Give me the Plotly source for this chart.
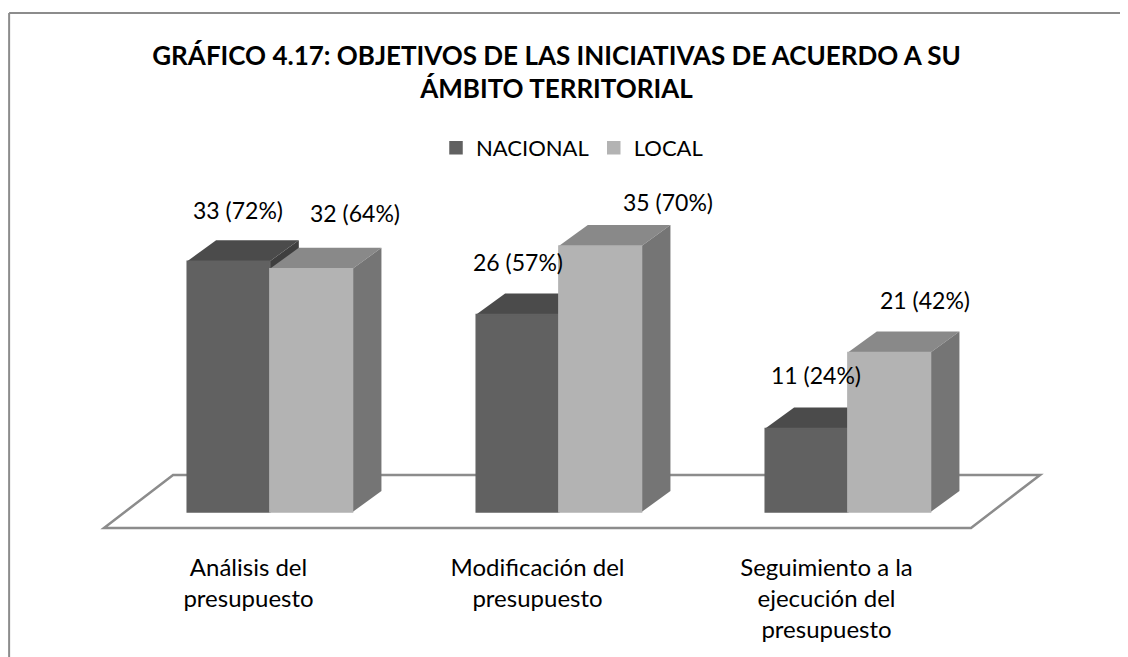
import plotly.graph_objects as go

# ---------------- data ----------------
categories = ["Análisis del<br>presupuesto",
              "Modificación del<br>presupuesto",
              "Seguimiento a la<br>ejecución del<br>presupuesto"]
series_names = ["NACIONAL", "LOCAL"]
nacional = [33, 26, 11]
local = [32, 35, 21]
nacional_pct = [72, 57, 24]
local_pct = [64, 70, 42]
title_text = "GRÁFICO 4.17: OBJETIVOS DE LAS INICIATIVAS DE ACUERDO A SU<br>ÁMBITO TERRITORIAL"

# ---------------- style / geometry ----------------
PAGE_OFF = 8                    # default body margin of the html page
FW, FH = 1128 - PAGE_OFF, 657 - PAGE_OFF
FONT = "Lato"


def px_x(X):   # screen pixel -> paper fraction
    return (X - PAGE_OFF) / FW


def px_y(Y):
    return 1 - (Y - PAGE_OFF) / FH


bar_w = 0.286          # width of each bar front face (category units)
shift = 0.074          # bar front plane offset from floor front plane
depth_x = 0.100        # 3-D depth, x units
depth_y = 2.76         # 3-D depth, y units
floor_front_y = -2.1
floor_depth_x = 0.239
floor_depth_y = 6.97
x_range = [-0.6, 2.8]
y_range = [-3, 40]
x_domain = [px_x(75.1), px_x(1057.7)]
y_domain = [px_y(534.8), px_y(208)]

front_cols = ["#616161", "#b3b3b3"]
top_cols = ["#4b4b4b", "#898989"]
side_cols = ["#3f3f3f", "#757575"]
edge_col = "#8c8c8c"

# label nudges (pixels) for the data labels
label_dx = [[9, 0, 9], [44, 68, 36]]
label_dy = [[51, 52, 53], [56, 44, 52]]

series_vals = [nacional, local]
series_pct = [nacional_pct, local_pct]
offsets = [-bar_w + shift, shift]
idx = list(range(len(categories)))

fig = go.Figure()
for s, name in enumerate(series_names):
    fig.add_trace(go.Bar(
        x=idx, y=series_vals[s], name=name,
        width=bar_w, offset=offsets[s],
        marker=dict(color=front_cols[s],
                    line=dict(width=1.5, color=front_cols[s])),
        hoverinfo="skip",
    ))

shapes = []
# floor
fx0, fx1 = -0.5, len(categories) - 0.5
fb = floor_front_y + floor_depth_y
shapes.append(dict(
    type="path", xref="x", yref="y", layer="below",
    path=(f"M{fx0},{floor_front_y} L{fx1},{floor_front_y} "
          f"L{fx1 + floor_depth_x},{fb} L{fx0 + floor_depth_x},{fb} Z"),
    fillcolor="white", line=dict(color=edge_col, width=2.5)))

# 3-D top and side faces of each bar
for i in idx:
    for s in range(len(series_names)):
        v = series_vals[s][i]
        x0 = i + offsets[s]
        x1 = x0 + bar_w
        shapes.append(dict(
            type="path", xref="x", yref="y", layer="below",
            path=(f"M{x0},{v} L{x1},{v} L{x1 + depth_x},{v + depth_y} "
                  f"L{x0 + depth_x},{v + depth_y} Z"),
            fillcolor=top_cols[s], line=dict(width=0)))
        shapes.append(dict(
            type="path", xref="x", yref="y", layer="below",
            path=(f"M{x1},0 L{x1},{v} L{x1 + depth_x},{v + depth_y} "
                  f"L{x1 + depth_x},{depth_y} Z"),
            fillcolor=side_cols[s], line=dict(width=0)))

# chart frame (partially visible border)
fl = 0.001
ft = px_y(13)
shapes.append(dict(type="line", xref="paper", yref="paper",
                   x0=fl, y0=ft, x1=1, y1=ft,
                   line=dict(color=edge_col, width=2)))
shapes.append(dict(type="line", xref="paper", yref="paper",
                   x0=fl, y0=ft, x1=fl, y1=0,
                   line=dict(color=edge_col, width=2)))

annotations = []
for s in range(len(series_names)):
    for i in idx:
        v = series_vals[s][i]
        annotations.append(dict(
            x=i + offsets[s] + bar_w / 2, y=v, xref="x", yref="y",
            text=f"{v} ({series_pct[s][i]}%)", showarrow=False,
            xshift=label_dx[s][i], yshift=label_dy[s][i],
            font=dict(family=FONT, size=23, color="black")))

fig.update_layout(
    width=FW, height=FH,
    margin=dict(l=0, r=0, t=0, b=0),
    paper_bgcolor="white", plot_bgcolor="rgba(0,0,0,0)",
    barmode="overlay",
    title=dict(text=title_text, x=px_x(556.5), xanchor="center",
               y=px_y(64.5), yanchor="top", yref="paper",
               font=dict(family=FONT, size=26, color="black", weight="bold")),
    legend=dict(orientation="h", x=px_x(572), xanchor="center",
                y=px_y(148), yanchor="middle",
                font=dict(family=FONT, size=22, color="black"),
                bgcolor="rgba(0,0,0,0)"),
    xaxis=dict(range=x_range, domain=x_domain, tickmode="array",
               tickvals=idx, ticktext=categories, showgrid=False,
               zeroline=False, showline=False, ticks="",
               ticklabelstandoff=16,
               tickfont=dict(family=FONT, size=24, color="black")),
    yaxis=dict(range=y_range, domain=y_domain, visible=False,
               showgrid=False, zeroline=False),
    shapes=shapes,
    annotations=annotations,
    showlegend=True,
)

fig.write_html("out.html")
